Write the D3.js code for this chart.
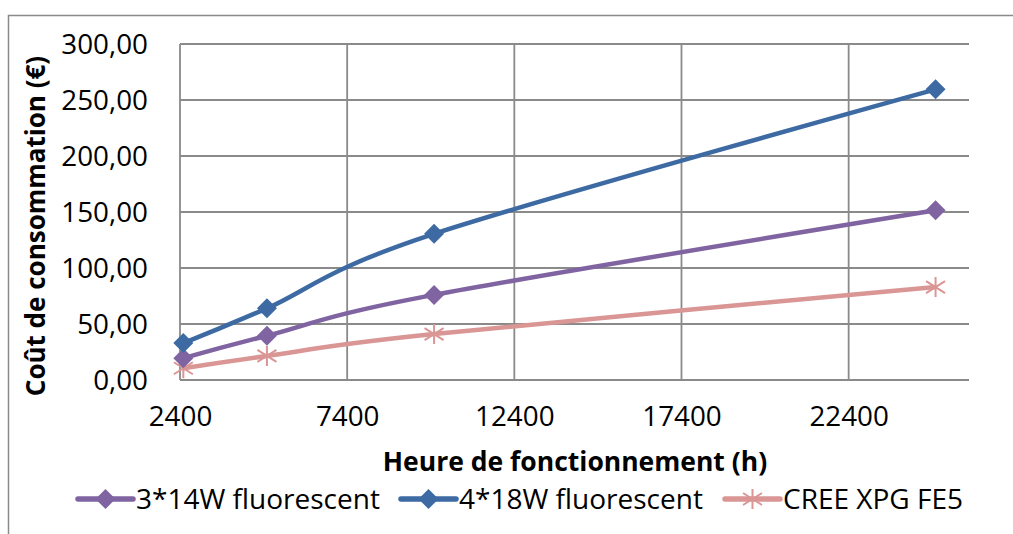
<!DOCTYPE html>
<html><head><meta charset="utf-8">
<script src="https://cdn.jsdelivr.net/npm/d3@7"></script>
<style>
html,body{margin:0;padding:0;background:#fff;}
svg{display:block;font-family:"Open Sans",sans-serif;}
</style></head>
<body>
<svg id="c" width="1013" height="534"></svg>
<script>
const hours = [2500, 5000, 10000, 25000];
const xTicks = [2400, 7400, 12400, 17400, 22400];
const yTicks = [0, 50, 100, 150, 200, 250, 300];
const seriesNames = ["3*14W fluorescent", "4*18W fluorescent", "CREE XPG FE5"];
const s3x14 = [19.5, 39.5, 76, 151.5];
const s4x18 = [33, 64, 130.5, 259.5];
const sCree = [10.5, 21.5, 41, 83];
const colors = ["#8064A2", "#3D6AA2", "#D99694"];
const markers = ["diamond", "diamond", "star"];

const svg = d3.select("#c");
const L = 180, R = 969, T = 44, B = 380;
const x = d3.scaleLinear().domain([2400, 26000]).range([L, R]);
const y = d3.scaleLinear().domain([0, 300]).range([B, T]);
const grid = "#8A8A8A";

// outer frame
svg.append("path").attr("d", "M8.5,534 V15.5 H1013").attr("fill", "none").attr("stroke", grid).attr("stroke-width", 1.5);

// horizontal gridlines
svg.append("g").selectAll("line").data(yTicks).join("line")
  .attr("x1", L).attr("x2", R).attr("y1", d => y(d)).attr("y2", d => y(d))
  .attr("stroke", grid).attr("stroke-width", 1.8);
// vertical gridlines
svg.append("g").selectAll("line").data(xTicks).join("line")
  .attr("x1", d => x(d)).attr("x2", d => x(d)).attr("y1", T).attr("y2", B)
  .attr("stroke", grid).attr("stroke-width", 1.8);

// axes labels via d3 axes
const fmt = d => d3.format(".2f")(d).replace(".", ",");
const yAxis = svg.append("g").attr("transform", `translate(${L},0)`)
  .call(d3.axisLeft(y).tickValues(yTicks).tickFormat(fmt).tickSize(0).tickPadding(32));
yAxis.select(".domain").remove();
yAxis.selectAll("text").attr("font-size", 27.8).attr("font-family", "Open Sans").attr("fill", "#000").attr("dy", "0.34em");

const xAxis = svg.append("g").attr("transform", `translate(0,${B})`)
  .call(d3.axisBottom(x).tickValues(xTicks).tickFormat(d3.format("d")).tickSize(0).tickPadding(0));
xAxis.select(".domain").remove();
xAxis.selectAll("text").attr("font-size", 27.8).attr("font-family", "Open Sans").attr("fill", "#000").attr("dy", null).attr("y", 46);

// titles
svg.append("text").attr("x", 575).attr("y", 471).attr("text-anchor", "middle")
  .attr("font-size", 26.5).attr("font-weight", "bold").text("Heure de fonctionnement (h)");
svg.append("text").attr("transform", "translate(45,226) rotate(-90)").attr("text-anchor", "middle")
  .attr("font-size", 26).attr("font-weight", "bold").text("Coût de consommation (€)");

const allSeries = [s3x14, s4x18, sCree];
const line = d3.line().x(d => x(d[0])).y(d => y(d[1])).curve(d3.curveCardinal.tension(0));

function drawMarker(g, type, cx, cy, color) {
  if (type === "diamond") {
    g.append("path").attr("d", `M${cx},${cy-10} L${cx+10},${cy} L${cx},${cy+10} L${cx-10},${cy} Z`).attr("fill", color);
  } else {
    const r = 10;
    const d = `M${cx},${cy-r} V${cy+r} M${cx-r*0.95},${cy-r*0.6} L${cx+r*0.95},${cy+r*0.6} M${cx-r*0.95},${cy+r*0.6} L${cx+r*0.95},${cy-r*0.6}`;
    g.append("path").attr("d", d).attr("stroke", color).attr("stroke-width", 2).attr("fill", "none");
  }
}

const order = [2, 0, 1];
order.forEach(i => {
  const data = hours.map((h, k) => [h, allSeries[i][k]]);
  const g = svg.append("g");
  g.append("path").attr("d", line(data)).attr("fill", "none").attr("stroke", colors[i])
    .attr("stroke-width", 4.5).attr("stroke-linejoin", "round");
  data.forEach(d => drawMarker(g, markers[i], x(d[0]), y(d[1]), colors[i]));
});

// legend
const legX = [78, 401, 725];
const legY = 499;
seriesNames.forEach((n, i) => {
  const g = svg.append("g");
  g.append("line").attr("x1", legX[i]).attr("x2", legX[i] + 55).attr("y1", legY).attr("y2", legY)
    .attr("stroke", colors[i]).attr("stroke-width", 5.5).attr("stroke-linecap", "round");
  drawMarker(g, markers[i], legX[i] + 27.5, legY, colors[i]);
  g.append("text").attr("x", legX[i] + 58).attr("y", legY).attr("dy", "0.35em")
    .attr("font-size", 28).text(n);
});
</script>
</body></html>
